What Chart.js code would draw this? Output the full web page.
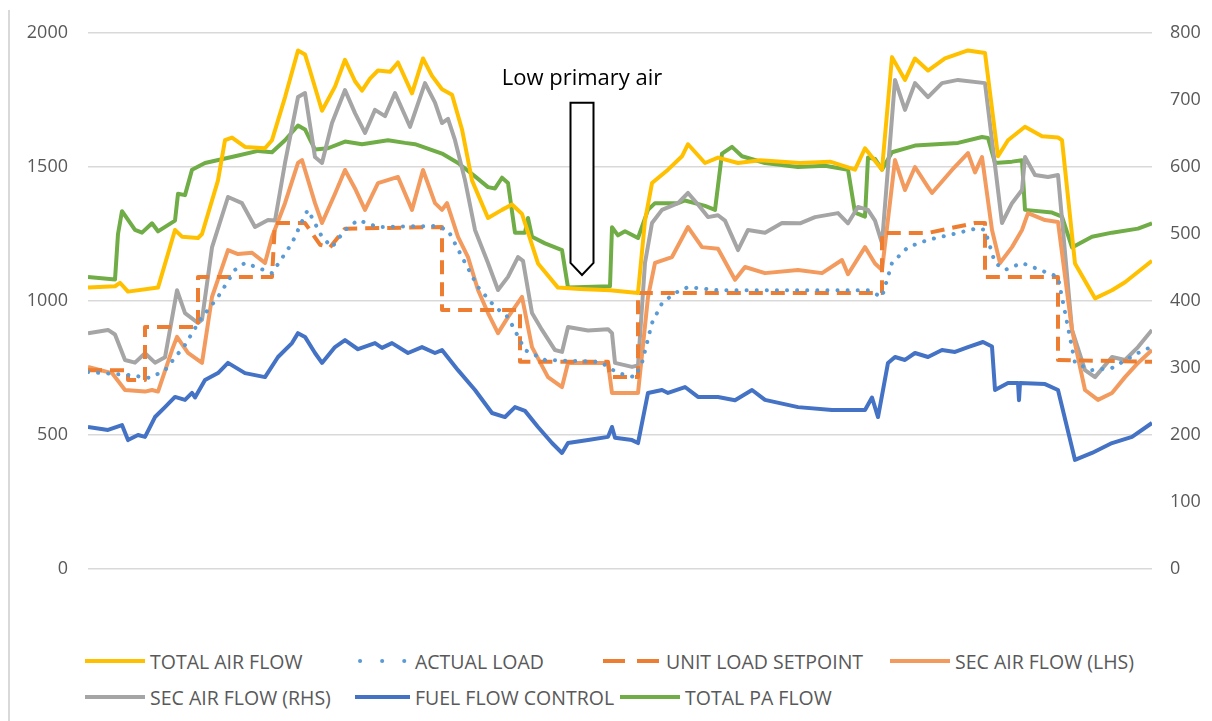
<!DOCTYPE html>
<html>
<head>
<meta charset="utf-8">
<title>Air flow trend</title>
<script src="https://cdn.jsdelivr.net/npm/chart.js@4.4.0/dist/chart.umd.min.js"></script>
<style>
    body { margin: 0; background: #fff; }
    #wrap { position: relative; width: 1212px; height: 721px; overflow: hidden; font-family: "Open Sans", sans-serif; }
    #frame { position: absolute; left: 8px; top: 10px; bottom: 0; width: 2px; background: #d9d9d9; }
    #chart { position: absolute; left: 0; top: 0; }
    .item { position: absolute; display: flex; align-items: center; height: 26px; font-size: 19.5px; color: #595959; white-space: nowrap; }
    .item svg { margin-right: 5px; }
</style>
</head>
<body>
<div id="wrap">
    <div id="frame"></div>
    <canvas id="chart" width="1212" height="600"></canvas>
    <div id="legend"></div>
</div>
<script>
// time axis is in samples, value in flow units (left axis)
const seriesLabels = ['TOTAL AIR FLOW', 'ACTUAL LOAD', 'UNIT LOAD SETPOINT', 'SEC AIR FLOW (LHS)',
    'SEC AIR FLOW (RHS)', 'FUEL FLOW CONTROL', 'TOTAL PA FLOW'];

const totalAirFlow = [[0,1050],[27,1055],[32,1068],[40,1035],[70,1050],[87,1265],[94,1240],[110,1235],[114,1250],
    [130,1450],[137,1600],[144,1610],[157,1575],[177,1570],[184,1600],[197,1760],[210,1935],[217,1920],[222,1860],
    [234,1710],[247,1800],[257,1900],[267,1820],[274,1785],[282,1830],[290,1860],[302,1855],[310,1890],[324,1775],
    [335,1905],[344,1840],[354,1790],[364,1770],[374,1640],[384,1450],[400,1310],[414,1340],[424,1360],[434,1325],
    [450,1140],[470,1050],[492,1045],[522,1040],[550,1030],[557,1300],[564,1440],[580,1490],[594,1540],[600,1585],
    [617,1515],[630,1535],[650,1515],[672,1525],[712,1515],[742,1520],[767,1490],[777,1570],[794,1490],[804,1910],
    [817,1825],[827,1905],[840,1860],[857,1905],[880,1935],[897,1925],[910,1540],[920,1600],[937,1650],[954,1615],
    [970,1610],[974,1600],[987,1140],[1007,1010],[1024,1040],[1037,1070],[1064,1150]];

const actualLoad = [[0,735],[40,724],[62,713],[77,742],[97,836],[112,929],[130,1015],[147,1116],[157,1142],
    [184,1104],[204,1216],[217,1321],[220,1340],[234,1239],[244,1201],[257,1265],[270,1302],[290,1276],[347,1280],
    [360,1265],[374,1164],[390,1052],[407,978],[420,940],[437,817],[457,780],[512,773],[530,731],[547,716],[554,769],
    [564,918],[574,992],[587,1030],[600,1052],[630,1040],[700,1040],[780,1040],[794,1015],[804,1142],[820,1201],
    [840,1228],[870,1254],[890,1272],[897,1265],[907,1142],[917,1116],[934,1142],[970,1090],[987,769],[1004,742],
    [1024,750],[1050,806],[1064,830]];

const unitLoadSetpoint = [[0,742],[40,742],[40,705],[57,705],[57,903],[110,903],[110,1090],[184,1090],[187,1291],
    [217,1291],[232,1210],[242,1200],[257,1270],[354,1276],[354,966],[432,966],[432,773],[520,773],[522,716],
    [550,716],[550,1030],[794,1030],[794,1254],[840,1254],[887,1291],[897,1291],[897,1090],[970,1090],[970,780],
    [1064,773]];

const secAirLhs = [[0,754],[24,731],[37,668],[57,662],[64,668],[70,662],[84,817],[89,866],[100,806],[114,769],
    [124,1015],[140,1190],[150,1175],[164,1180],[177,1142],[184,1239],[197,1365],[210,1515],[214,1526],[227,1365],
    [234,1291],[247,1400],[257,1489],[267,1420],[277,1340],[290,1440],[310,1463],[324,1340],[335,1489],[347,1365],
    [354,1340],[359,1365],[370,1239],[380,1164],[390,1041],[400,955],[410,880],[420,940],[434,1015],[444,828],
    [460,716],[474,679],[480,769],[520,769],[524,657],[550,657],[560,1015],[567,1142],[584,1164],[600,1276],
    [614,1201],[630,1195],[647,1079],[657,1127],[677,1104],[710,1116],[734,1104],[754,1153],[760,1100],[777,1201],
    [787,1140],[794,1116],[807,1526],[817,1414],[827,1500],[840,1425],[844,1403],[864,1489],[880,1552],[887,1480],
    [894,1537],[904,1265],[912,1142],[924,1201],[934,1265],[940,1328],[957,1302],[970,1295],[984,892],[997,668],
    [1010,631],[1024,657],[1037,716],[1050,769],[1064,817]];

const secAirRhs = [[0,880],[20,892],[27,875],[37,780],[47,770],[57,805],[67,770],[77,790],[89,1040],[97,955],
    [110,918],[114,930],[124,1200],[140,1388],[154,1365],[167,1276],[180,1302],[187,1300],[197,1515],[210,1761],
    [217,1776],[227,1537],[234,1515],[244,1664],[257,1787],[267,1701],[277,1627],[287,1713],[297,1690],[307,1776],
    [322,1650],[337,1813],[347,1740],[354,1664],[360,1680],[367,1600],[377,1451],[387,1265],[400,1142],[410,1041],
    [420,1090],[430,1164],[435,1150],[444,955],[454,892],[467,817],[474,810],[480,903],[500,890],[520,895],[524,880],
    [527,769],[544,754],[550,760],[557,1142],[564,1291],[574,1340],[590,1365],[600,1403],[610,1360],[620,1313],
    [630,1320],[637,1300],[647,1216],[650,1190],[660,1265],[677,1255],[694,1291],[712,1290],[727,1313],[750,1328],
    [760,1290],[770,1351],[780,1340],[787,1300],[794,1216],[807,1825],[817,1713],[827,1813],[840,1761],[854,1813],
    [870,1825],[897,1813],[914,1291],[924,1365],[934,1414],[937,1537],[947,1470],[960,1463],[970,1470],[984,892],
    [997,742],[1007,716],[1024,791],[1037,780],[1050,828],[1064,892]];

const fuelFlowControl = [[0,530],[20,519],[34,537],[40,481],[50,500],[57,493],[67,567],[77,604],[87,642],[97,631],
    [104,657],[107,640],[117,705],[130,731],[140,769],[157,731],[177,716],[190,791],[204,843],[210,880],[217,866],
    [227,806],[234,769],[247,828],[257,854],[270,820],[287,843],[294,825],[304,843],[320,806],[334,828],[347,806],
    [354,817],[370,742],[387,668],[404,582],[417,567],[427,604],[437,590],[450,530],[464,470],[474,433],[480,470],
    [500,481],[520,493],[524,530],[527,490],[544,481],[550,470],[560,657],[574,668],[580,657],[597,679],[610,642],
    [630,642],[647,630],[664,668],[677,631],[710,604],[744,593],[777,593],[784,640],[790,567],[800,769],[807,791],
    [817,780],[827,806],[840,791],[854,817],[867,810],[880,828],[895,847],[904,830],[907,668],[920,694],[930,694],
    [931,630],[932,694],[957,690],[970,668],[987,407],[1004,433],[1024,470],[1044,493],[1064,545]];

const totalPaFlow = [[0,1090],[27,1080],[30,1250],[34,1335],[47,1265],[54,1255],[64,1290],[70,1260],[87,1300],
    [90,1400],[97,1395],[104,1490],[117,1515],[147,1540],[170,1560],[184,1555],[197,1600],[210,1655],[217,1640],
    [227,1565],[240,1570],[257,1595],[274,1585],[300,1600],[317,1590],[327,1585],[354,1550],[370,1515],[387,1465],
    [400,1425],[407,1420],[414,1460],[420,1440],[427,1255],[437,1255],[440,1310],[444,1240],[457,1215],[474,1190],
    [480,1050],[522,1055],[524,1275],[530,1245],[537,1260],[550,1235],[560,1340],[567,1365],[590,1365],[597,1375],
    [617,1355],[627,1340],[634,1550],[644,1575],[654,1540],[677,1515],[710,1500],[737,1505],[760,1490],[767,1330],
    [777,1315],[780,1535],[787,1530],[794,1490],[804,1555],[827,1580],[870,1590],[894,1612],[900,1608],[907,1515],
    [924,1520],[934,1525],[937,1340],[964,1330],[974,1315],[984,1200],[1004,1240],[1024,1255],[1050,1270],[1064,1290]];

const leftTicks = [0, 500, 1000, 1500, 2000];
const rightTicks = [0, 100, 200, 300, 400, 500, 600, 700, 800];

// annotation: time of the low primary air event
const noteText = 'Low primary air';
const noteTime = 494;

const styles = [
    { data: totalAirFlow, color: '#FFC000', dash: [] },
    { data: actualLoad, color: '#5B9BD5', dash: [0.1, 10], cap: 'round' },
    { data: unitLoadSetpoint, color: '#ED7D31', dash: [14, 8] },
    { data: secAirLhs, color: '#F39B5E', dash: [] },
    { data: secAirRhs, color: '#A5A5A5', dash: [] },
    { data: fuelFlowControl, color: '#4472C4', dash: [] },
    { data: totalPaFlow, color: '#70AD47', dash: [] }
];

const datasets = styles.map((s, i) => ({
    label: seriesLabels[i],
    data: s.data,
    borderColor: s.color,
    backgroundColor: s.color,
    borderWidth: 4,
    borderDash: s.dash,
    borderCapStyle: s.cap || 'butt',
    borderJoinStyle: 'round',
    pointRadius: 0,
    tension: 0,
    fill: false,
    yAxisID: 'y'
}));

// draws the "Low primary air" callout arrow
const lowAirNote = {
    id: 'lowAirNote',
    afterDatasetsDraw(chart) {
        const { ctx, scales: { x, y } } = chart;
        const cx = x.getPixelForValue(noteTime);
        const l = x.getPixelForValue(noteTime - 11.5);
        const r = x.getPixelForValue(noteTime + 11.5);
        const top = y.getPixelForValue(1740);
        const neck = y.getPixelForValue(1142);
        const tip = y.getPixelForValue(1097);
        ctx.save();
        ctx.beginPath();
        ctx.moveTo(l, top);
        ctx.lineTo(r, top);
        ctx.lineTo(r, neck);
        ctx.lineTo(cx, tip);
        ctx.lineTo(l, neck);
        ctx.closePath();
        ctx.fillStyle = '#fff';
        ctx.fill();
        ctx.lineWidth = 2;
        ctx.strokeStyle = '#000';
        ctx.stroke();
        ctx.fillStyle = '#000';
        ctx.font = '22px "Open Sans"';
        ctx.textAlign = 'center';
        ctx.textBaseline = 'alphabetic';
        ctx.fillText(noteText, cx, y.getPixelForValue(1805));
        ctx.restore();
    }
};

const tickFont = { family: '"Open Sans"', size: 18 };

new Chart(document.getElementById('chart'), {
    type: 'line',
    data: { datasets },
    options: {
        responsive: false,
        animation: false,
        devicePixelRatio: 1,
        layout: { padding: { top: 33, bottom: 31, left: 0, right: 0 } },
        plugins: { legend: { display: false }, tooltip: { enabled: false } },
        scales: {
            x: { type: 'linear', min: 0, max: 1064, display: false },
            y: {
                position: 'left', min: 0, max: 2000,
                afterBuildTicks: (s) => { s.ticks = leftTicks.map(v => ({ value: v })); },
                afterFit: (s) => { s.width = 88; },
                border: { display: false },
                grid: { color: '#d9d9d9', lineWidth: 1.5, drawTicks: false },
                ticks: { color: '#595959', font: tickFont, padding: 20, callback: (v) => String(v) }
            },
            y1: {
                position: 'right', min: 0, max: 800,
                afterBuildTicks: (s) => { s.ticks = rightTicks.map(v => ({ value: v })); },
                afterFit: (s) => { s.width = 60; },
                border: { display: false },
                grid: { display: false, drawTicks: false },
                ticks: { color: '#595959', font: tickFont, padding: 18, callback: (v) => String(v) }
            }
        }
    },
    plugins: [lowAirNote]
});

// legend in two rows, like the original layout
const legendSlots = [
    { left: 85, top: 648, w: 60 }, { left: 355, top: 648, w: 55 }, { left: 603, top: 648, w: 58 }, { left: 890, top: 648, w: 60 },
    { left: 85, top: 684, w: 60 }, { left: 355, top: 684, w: 55 }, { left: 620, top: 684, w: 60 }
];
const legend = document.getElementById('legend');
styles.forEach((s, i) => {
    const slot = legendSlots[i];
    let dashAttr = '';
    let cap = 'butt';
    if (i === 1) { dashAttr = 'stroke-dasharray="0.1 22"'; cap = 'round'; }
    if (i === 2) { dashAttr = 'stroke-dasharray="22 12"'; }
    const x0 = i === 1 ? 5 : 0;
    legend.innerHTML += `<div class="item" style="left:${slot.left}px;top:${slot.top}px">
        <svg width="${slot.w}" height="10"><line x1="${x0}" y1="5" x2="${slot.w}" y2="5" stroke="${s.color}"
        stroke-width="4" stroke-linecap="${cap}" ${dashAttr}/></svg>${seriesLabels[i]}</div>`;
});
</script>
</body>
</html>
